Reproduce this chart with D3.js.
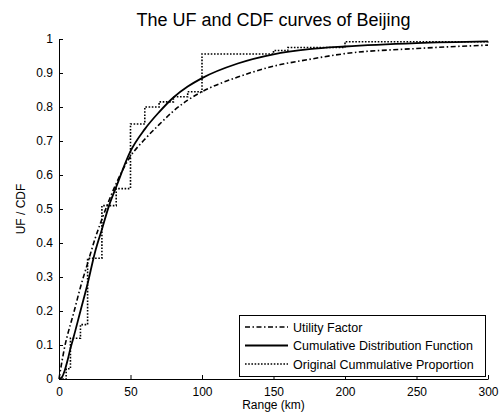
<!DOCTYPE html>
<html>
<head>
<meta charset="utf-8">
<script src="https://cdn.jsdelivr.net/npm/d3@7"></script>
<style>
  body { margin: 0; background: #fff; }
  svg { font-family: "Liberation Sans", Arial, sans-serif; }
</style>
</head>
<body>
<div class="chart"></div>
<script>
// range (km) sample points
const ufRange = [0, 2, 4, 6, 10, 15, 20, 25, 30, 40, 50, 60, 70, 80, 90, 100, 125, 150, 175, 200, 250, 300];
const ufValues = [0, 0.05, 0.095, 0.13, 0.19, 0.27, 0.34, 0.41, 0.47, 0.575, 0.655, 0.705, 0.748, 0.788, 0.82, 0.845, 0.888, 0.92, 0.94, 0.957, 0.972, 0.982];

const cdfRange = [0, 2, 4, 6, 8, 10, 15, 20, 25, 30, 35, 40, 50, 60, 70, 80, 90, 100, 125, 150, 175, 200, 250, 300];
const cdfValues = [0, 0.005, 0.025, 0.055, 0.09, 0.12, 0.2, 0.28, 0.37, 0.44, 0.51, 0.565, 0.67, 0.735, 0.785, 0.828, 0.86, 0.885, 0.928, 0.955, 0.97, 0.978, 0.988, 0.993];

const stepRange = [0, 5, 8, 15, 20, 30, 40, 50, 60, 70, 80, 90, 100, 150, 160, 200, 300];
const stepValues = [0, 0.03, 0.12, 0.16, 0.355, 0.51, 0.56, 0.75, 0.80, 0.815, 0.83, 0.845, 0.956, 0.966, 0.975, 0.992, 0.995];

const xTicks = [0, 50, 100, 150, 200, 250, 300];
const yTicks = [0, 0.1, 0.2, 0.3, 0.4, 0.5, 0.6, 0.7, 0.8, 0.9, 1];

const legendLabels = ['Utility Factor', 'Cumulative Distribution Function', 'Original Cummulative Proportion'];

const width = 502, height = 414;
const margin = ({top: 39, right: 14, bottom: 35, left: 59});

const svg = d3.select('.chart')
    .append('svg')
    .attr('width', width)
    .attr('height', height);

const xScale = d3.scaleLinear()
    .domain([0, 300])
    .range([margin.left, width - margin.right]);

const yScale = d3.scaleLinear()
    .domain([0, 1])
    .range([height - margin.bottom, margin.top]);

const xAxis = d3.axisBottom(xScale)
    .tickValues(xTicks)
    .tickSizeInner(-4)
    .tickSizeOuter(0)
    .tickPadding(8)
    .tickFormat(d3.format('d'));

const yAxis = d3.axisLeft(yScale)
    .tickValues(yTicks)
    .tickSizeInner(-4)
    .tickSizeOuter(0)
    .tickPadding(6)
    .tickFormat(d => d === 0 || d === 1 ? String(d) : d.toFixed(1));

svg.append('g')
    .attr('class', 'axis x-axis')
    .attr('transform', 'translate(0,' + yScale(0) + ')')
    .call(xAxis)
    .call(g => g.selectAll('text').attr('font-size', 12).attr('fill', '#000').attr('font-family', null))
    .call(g => g.selectAll('line, path').attr('stroke', '#000'));

svg.append('g')
    .attr('class', 'axis y-axis')
    .attr('transform', 'translate(' + xScale(0) + ',0)')
    .call(yAxis)
    .call(g => g.selectAll('text').attr('font-size', 12).attr('fill', '#000').attr('font-family', null))
    .call(g => g.selectAll('line, path').attr('stroke', '#000'));

const smooth = d3.line()
    .curve(d3.curveMonotoneX)
    .x(d => xScale(d[0]))
    .y(d => yScale(d[1]));

const stairs = d3.line()
    .curve(d3.curveStepAfter)
    .x(d => xScale(d[0]))
    .y(d => yScale(d[1]));

const styles = [
    {dash: '5,2.5,1.5,2.5', width: 1.6},
    {dash: null, width: 1.8},
    {dash: '1.6,1.6', width: 1.6}
];

const series = [
    {gen: smooth, pts: d3.zip(ufRange, ufValues)},
    {gen: smooth, pts: d3.zip(cdfRange, cdfValues)},
    {gen: stairs, pts: d3.zip(stepRange, stepValues)}
];

const plot = svg.append('g');
[2, 0, 1].forEach(i => {
    plot.append('path')
        .datum(series[i].pts)
        .attr('d', series[i].gen)
        .attr('fill', 'none')
        .attr('stroke', '#000')
        .attr('stroke-width', styles[i].width)
        .attr('stroke-dasharray', styles[i].dash);
});

// title and axis labels
svg.append('text')
    .attr('x', (xScale(0) + xScale(300)) / 2)
    .attr('y', 26)
    .attr('text-anchor', 'middle')
    .attr('font-size', 18)
    .text('The UF and CDF curves of Beijing');

svg.append('text')
    .attr('x', (xScale(0) + xScale(300)) / 2)
    .attr('y', 409)
    .attr('text-anchor', 'middle')
    .attr('font-size', 12)
    .text('Range (km)');

svg.append('text')
    .attr('transform', 'translate(25,' + yScale(0.5) + ') rotate(-90)')
    .attr('text-anchor', 'middle')
    .attr('font-size', 12)
    .text('UF / CDF');

// legend
const legend = svg.append('g')
    .attr('transform', 'translate(239,315)');

legend.append('rect')
    .attr('x', 0.5)
    .attr('y', 0.5)
    .attr('width', 246)
    .attr('height', 61)
    .attr('fill', '#fff')
    .attr('stroke', '#000');

legendLabels.forEach((label, i) => {
    const y = 12 + i * 18.5;
    legend.append('line')
        .attr('x1', 6)
        .attr('x2', 49)
        .attr('y1', y)
        .attr('y2', y)
        .attr('stroke', '#000')
        .attr('stroke-width', styles[i].width)
        .attr('stroke-dasharray', styles[i].dash);
    legend.append('text')
        .attr('x', 54)
        .attr('y', y + 4.5)
        .attr('font-size', 12.5)
        .text(label);
});
</script>
</body>
</html>
